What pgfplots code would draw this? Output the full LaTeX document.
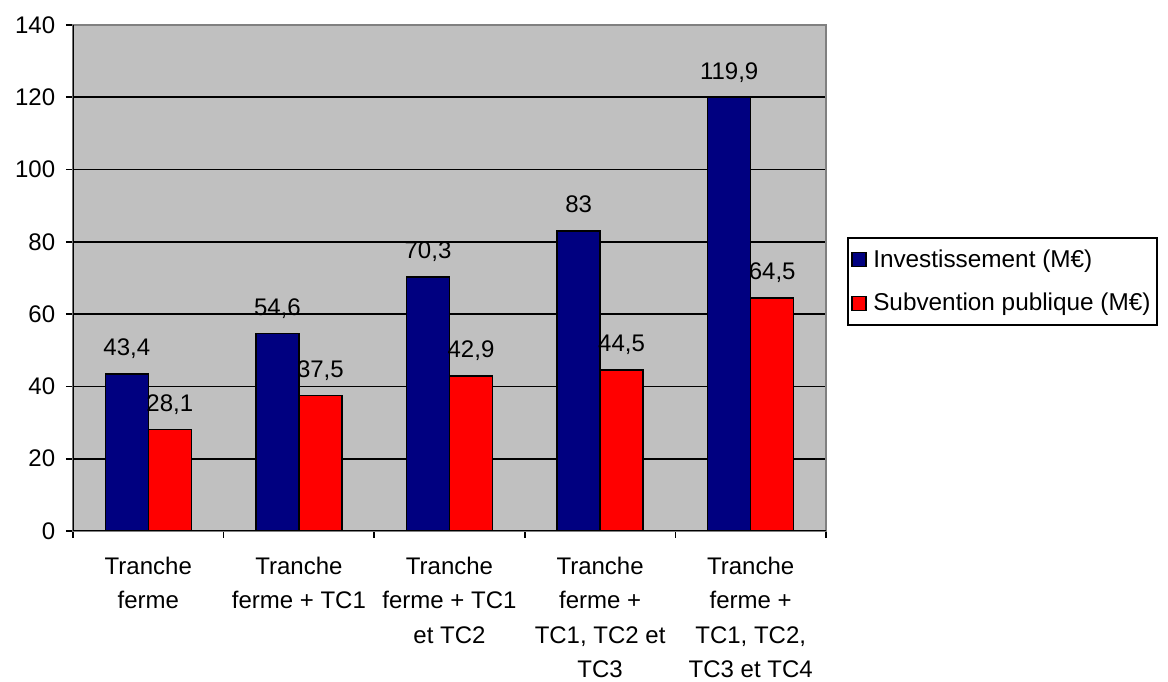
\documentclass[border=0pt]{standalone}
\usepackage{fontspec}
\setmainfont{Liberation Sans}
\usepackage{pgfplots}
\pgfplotsset{compat=1.18}
\definecolor{bg}{RGB}{192,192,192}
\definecolor{navy}{RGB}{0,0,128}
\definecolor{rd}{RGB}{255,0,0}
\definecolor{gr}{RGB}{128,128,128}
\begin{document}
\begin{tikzpicture}
\path[use as bounding box] (0,0) rectangle (700.8pt,409.2pt);
\begin{axis}[
  at={(43.8pt,90.6pt)}, anchor=south west,
  scale only axis, width=451.8pt, height=303.6pt,
  ymin=0, ymax=140, ytick={0,20,...,140},
  xmin=-0.5, xmax=4.5,
  xtick={-0.5,0.5,...,4.5},
  x tick label as interval,
  xticklabels={{Tranche\\ferme},{Tranche\\ferme + TC1},{Tranche\\ferme + TC1\\et TC2},{Tranche\\ferme +\\TC1, TC2 et\\TC3},{Tranche\\ferme +\\TC1, TC2,\\TC3 et TC4}},
  x tick label style={align=center, font=\fontsize{14.4}{20.6}\selectfont, yshift=-8pt},
  y tick label style={font=\fontsize{14.4}{16}\selectfont, xshift=-3pt},
  /pgf/number format/assume math mode=true,
  xtick pos=bottom, ytick pos=left,
  tick align=outside, major tick length=4.2pt,
  tick style={black, line width=1pt},
  ymajorgrids, major grid style={black, line width=1pt},
  axis line style={draw=gr, line width=0.8pt},
  axis background/.style={fill=bg},
  ybar=0pt, bar width=25.8pt,
  nodes near coords,
  nodes near coords style={font=\fontsize{14.4}{16}\selectfont, anchor=base, yshift=11pt, black},
  /pgf/number format/use comma,
  legend style={at={(1.028,0.493)}, anchor=west, draw=black, line width=1pt,
    font=\fontsize{14.6}{16}\selectfont, row sep=10pt, inner xsep=2pt, inner ysep=5pt},
  legend cell align=left,
  legend image code/.code={\draw[#1, line width=0.8pt] (2.6pt,-4.2pt) rectangle (11pt,4.2pt); \path (13pt,0pt);},
]
\addplot[fill=navy, draw=black, line width=0.8pt] coordinates {(0,43.4) (1,54.6) (2,70.3) (3,83) (4,119.9)};
\addplot[fill=rd, draw=black, line width=0.8pt] coordinates {(0,28.1) (1,37.5) (2,42.9) (3,44.5) (4,64.5)};
\legend{Investissement (M€), Subvention publique (M€)}
\draw[black, line width=1pt] (rel axis cs:0,1) -- (rel axis cs:0,0) -- (rel axis cs:1,0);
\end{axis}
\end{tikzpicture}
\end{document}
